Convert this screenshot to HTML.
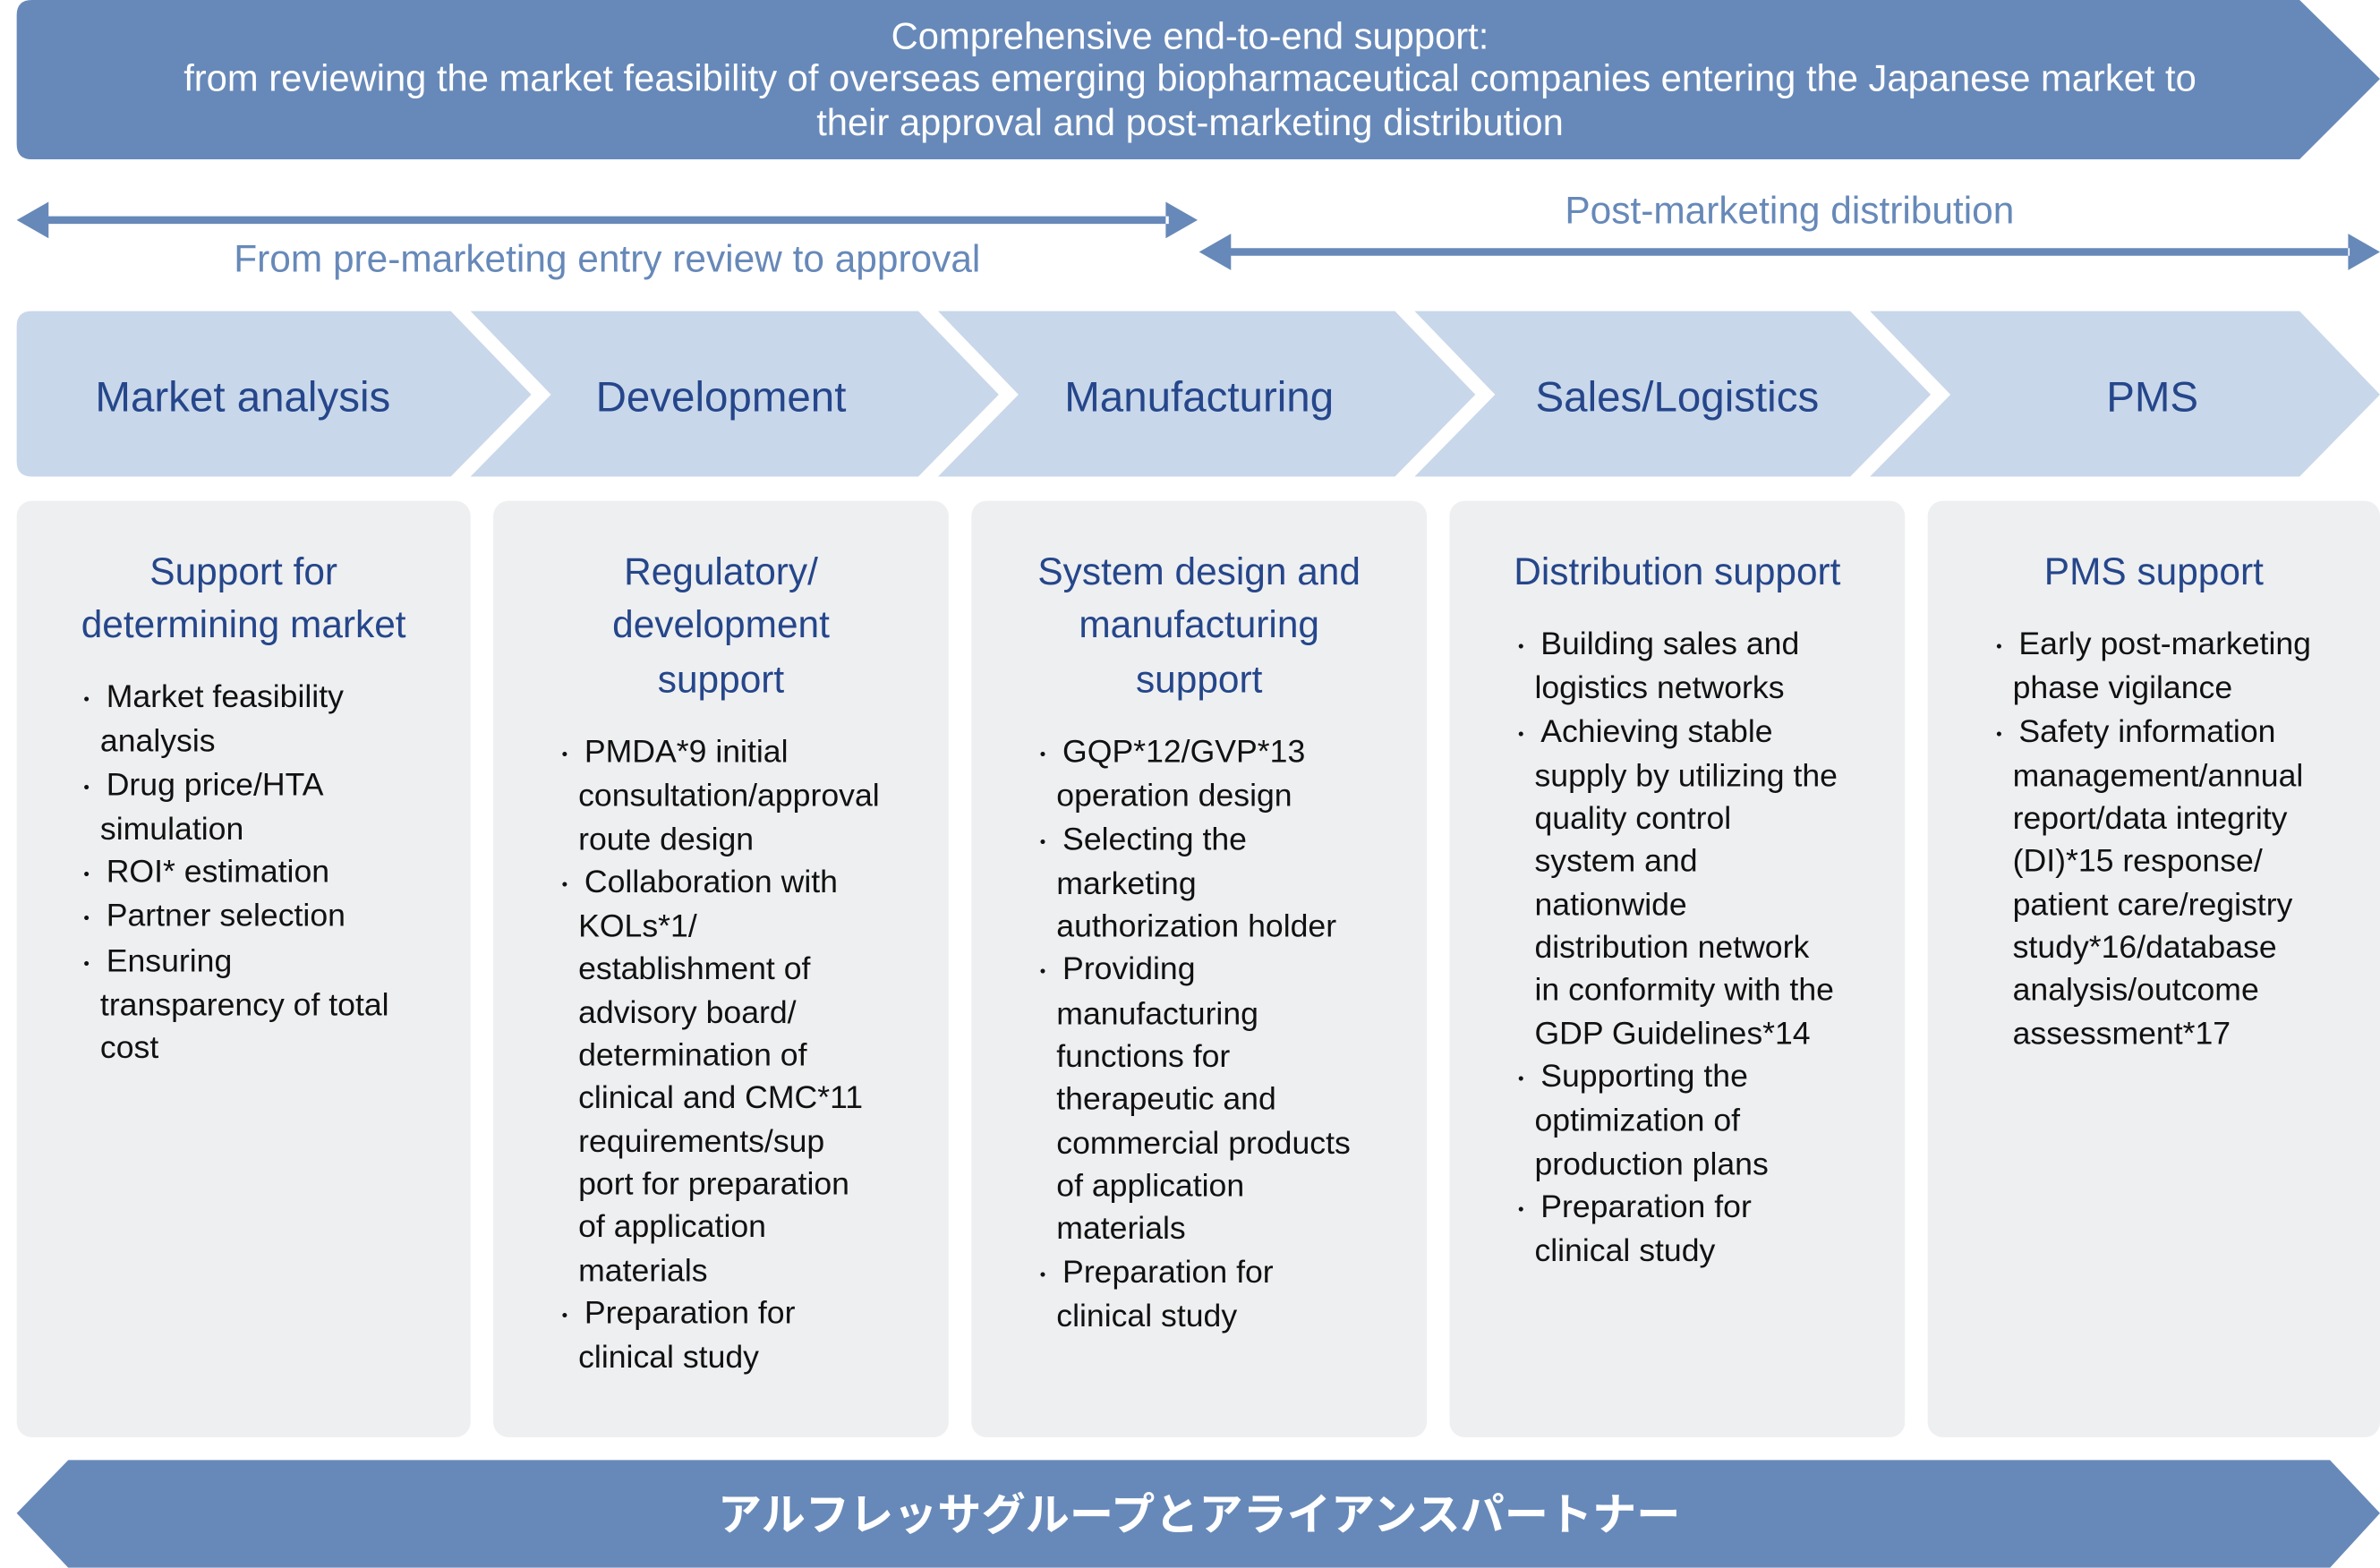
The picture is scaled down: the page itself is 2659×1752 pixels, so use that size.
<!DOCTYPE html>
<html><head><meta charset="utf-8"><style>
html,body{margin:0;padding:0;background:#fff;}
body{width:2659px;height:1752px;overflow:hidden;position:relative;}
#w{position:absolute;left:0;top:0;width:1568px;height:1033px;transform:scale(1.6958);transform-origin:0 0;font-family:"Liberation Sans","Noto Sans CJK JP",sans-serif;}
.a{position:absolute;}
.t{position:absolute;color:#fff;font-size:24.6px;text-align:center;white-space:nowrap;}
.ch{position:absolute;top:246px;color:#25468a;font-size:28px;white-space:nowrap;transform:translateX(-50%);}
.card{position:absolute;top:330px;height:617px;background:#eeeff1;border-radius:10px;}
.tt{position:absolute;left:0;right:0;text-align:center;color:#25468a;font-size:25px;line-height:35.3px;white-space:nowrap;}
.bl{position:absolute;font-size:21px;line-height:28.3px;color:#111;white-space:nowrap;}
.bl .b span{display:inline-block;width:20px;margin-left:-9px;font-size:14px;}
.bl .c{padding-left:11px;}
.bl .b{padding-left:4px;}
</style></head><body><div id="w">
<svg class="a" style="left:0;top:0" width="1568" height="1033" viewBox="0 0 1568 1033">
<path d="M21,0 H1515 L1568,52 L1515,105 H21 Q11,105 11,95 V10 Q11,0 21,0 Z" fill="#6789b9"/>
<path d="M30,142.5 H770 V147.5 H30 Z M11,145 L32,133 V157 Z M789,145 L768,133 V157 Z" fill="#6789b9"/>
<path d="M810,163.5 H1548 V168.5 H810 Z M790,166 L811,154 V178 Z M1568,166 L1547,154 V178 Z" fill="#6789b9"/>
<g fill="#c8d7ea">
<path d="M21,205 H297 L350,260 L297,314 H21 Q11,314 11,304 V215 Q11,205 21,205 Z"/>
<path d="M310,205 H605 L658,260 L605,314 H310 L363,260 Z"/>
<path d="M618,205 H919 L972,260 L919,314 H618 L671,260 Z"/>
<path d="M932,205 H1219 L1272,260 L1219,314 H932 L985,260 Z"/>
<path d="M1232,205 H1515 L1568,260 L1515,314 H1232 L1285,260 Z"/>
</g>
<path d="M45,962 H1535 L1568,997 L1535,1033 H45 L11,997 Z" fill="#6789b9"/>
</svg>
<div class="t" style="left:0;width:1568px;top:11px;line-height:28.3px;">Comprehensive end-to-end support:<br>from reviewing the market feasibility of overseas emerging biopharmaceutical companies entering the Japanese market to<br>their approval and post-marketing distribution</div>
<div class="a" style="left:0;width:800px;top:157px;text-align:center;color:#6789b9;font-size:25px;">From pre-marketing entry review to approval</div>
<div class="a" style="left:790px;width:778px;top:125px;text-align:center;color:#6789b9;font-size:25px;">Post-marketing distribution</div>
<div class="ch" style="left:160px">Market analysis</div>
<div class="ch" style="left:475px">Development</div>
<div class="ch" style="left:790px">Manufacturing</div>
<div class="ch" style="left:1105px">Sales/Logistics</div>
<div class="ch" style="left:1418px">PMS</div>

<div class="card" style="left:11px;width:299px">
<div class="tt" style="top:30px">Support for<br>determining market</div>
<div class="bl" style="left:44px;top:116px">
<div class="b"><span>・</span>Market feasibility</div><div class="c">analysis</div>
<div class="b"><span>・</span>Drug price/HTA</div><div class="c">simulation</div>
<div class="b"><span>・</span>ROI* estimation</div>
<div class="b"><span>・</span>Partner selection</div>
<div class="b"><span>・</span>Ensuring</div><div class="c">transparency of total</div><div class="c">cost</div>
</div></div>

<div class="card" style="left:325px;width:300px">
<div class="tt" style="top:30px">Regulatory/<br>development<br>support</div>
<div class="bl" style="left:45px;top:152px">
<div class="b"><span>・</span>PMDA*9 initial</div><div class="c">consultation/approval</div><div class="c">route design</div>
<div class="b"><span>・</span>Collaboration with</div><div class="c">KOLs*1/</div><div class="c">establishment of</div><div class="c">advisory board/</div><div class="c">determination of</div><div class="c">clinical and CMC*11</div><div class="c">requirements/sup</div><div class="c">port for preparation</div><div class="c">of application</div><div class="c">materials</div>
<div class="b"><span>・</span>Preparation for</div><div class="c">clinical study</div>
</div></div>

<div class="card" style="left:640px;width:300px">
<div class="tt" style="top:30px">System design and<br>manufacturing<br>support</div>
<div class="bl" style="left:45px;top:152px">
<div class="b"><span>・</span>GQP*12/GVP*13</div><div class="c">operation design</div>
<div class="b"><span>・</span>Selecting the</div><div class="c">marketing</div><div class="c">authorization holder</div>
<div class="b"><span>・</span>Providing</div><div class="c">manufacturing</div><div class="c">functions for</div><div class="c">therapeutic and</div><div class="c">commercial products</div><div class="c">of application</div><div class="c">materials</div>
<div class="b"><span>・</span>Preparation for</div><div class="c">clinical study</div>
</div></div>

<div class="card" style="left:955px;width:300px">
<div class="tt" style="top:30px">Distribution support</div>
<div class="bl" style="left:45px;top:81px">
<div class="b"><span>・</span>Building sales and</div><div class="c">logistics networks</div>
<div class="b"><span>・</span>Achieving stable</div><div class="c">supply by utilizing the</div><div class="c">quality control</div><div class="c">system and</div><div class="c">nationwide</div><div class="c">distribution network</div><div class="c">in conformity with the</div><div class="c">GDP Guidelines*14</div>
<div class="b"><span>・</span>Supporting the</div><div class="c">optimization of</div><div class="c">production plans</div>
<div class="b"><span>・</span>Preparation for</div><div class="c">clinical study</div>
</div></div>

<div class="card" style="left:1270px;width:298px">
<div class="tt" style="top:30px">PMS support</div>
<div class="bl" style="left:45px;top:81px">
<div class="b"><span>・</span>Early post-marketing</div><div class="c">phase vigilance</div>
<div class="b"><span>・</span>Safety information</div><div class="c">management/annual</div><div class="c">report/data integrity</div><div class="c">(DI)*15 response/</div><div class="c">patient care/registry</div><div class="c">study*16/database</div><div class="c">analysis/outcome</div><div class="c">assessment*17</div>
</div></div>

<div class="a" style="left:0;width:1580px;top:977px;text-align:center;color:#fff;font-size:29px;font-weight:bold;font-family:'Noto Sans CJK JP',sans-serif;line-height:38px;">アルフレッサグループとアライアンスパートナー</div>
</div></body></html>
